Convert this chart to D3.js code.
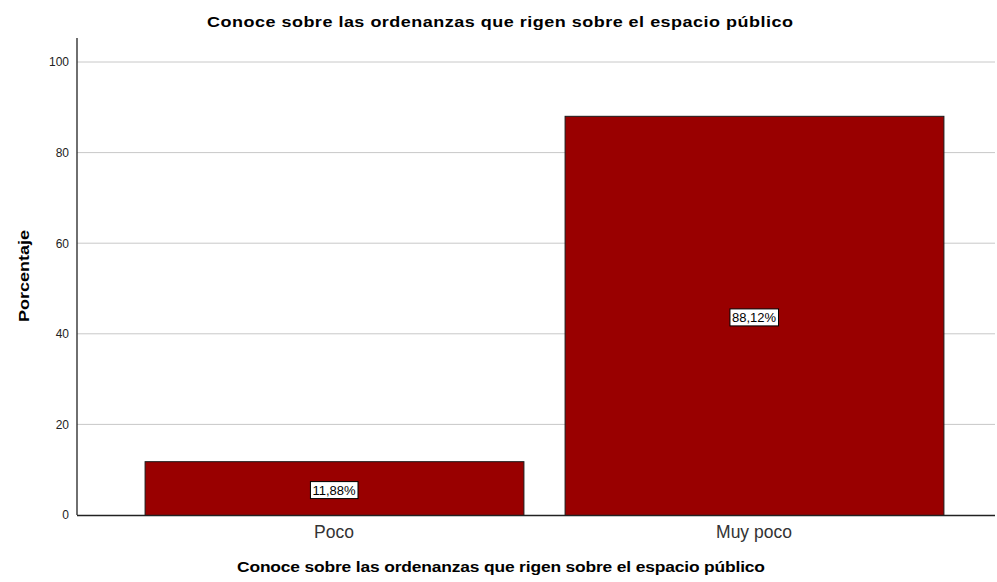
<!DOCTYPE html>
<html><head><meta charset="utf-8">
<script src="https://cdn.jsdelivr.net/npm/d3@7"></script>
<style>body{margin:0;background:#fff;} text{font-family:"Liberation Sans",Arial,sans-serif;}</style>
</head><body>
<svg id="c" width="997" height="582"></svg>
<script>
const categories = ["Poco", "Muy poco"];
const values = [11.88, 88.12];
const valueLabels = ["11,88%", "88,12%"];
const yTicks = [0, 20, 40, 60, 80, 100];
const title = "Conoce sobre las ordenanzas que rigen sobre el espacio público";
const xTitle = "Conoce sobre las ordenanzas que rigen sobre el espacio público";
const yTitle = "Porcentaje";

const svg = d3.select("#c");
const plotL = 77, plotR = 995, plotT = 38, plotB = 515;
const y = d3.scaleLinear().domain([0, 100]).range([plotB, 62]);
const x = d3.scaleBand().domain(categories).range([124, 964]).paddingInner(0.098).paddingOuter(0.049);

// gridlines
svg.append("g").selectAll("line").data(yTicks.filter(d => d > 0)).join("line")
  .attr("x1", plotL).attr("x2", plotR).attr("y1", d => y(d)).attr("y2", d => y(d))
  .attr("stroke", "#c8c8c8").attr("stroke-width", 1);

// bars
svg.append("g").selectAll("rect").data(values).join("rect")
  .attr("x", (d, i) => x(categories[i]) + 0.5)
  .attr("y", d => y(d) + 0.5)
  .attr("width", x.bandwidth())
  .attr("height", d => y(0) - y(d))
  .attr("fill", "#990000").attr("stroke", "#1a1a1a").attr("stroke-width", 1);

// y axis
const yAxis = d3.axisLeft(y).tickValues(yTicks).tickSize(0).tickPadding(8);
const ga = svg.append("g").attr("transform", `translate(${plotL},0)`).call(yAxis);
ga.select(".domain").remove();
ga.selectAll("text").attr("font-size", 12).attr("fill", "#222").style("font-family", "'Liberation Sans',Arial,sans-serif");
svg.append("line").attr("x1", plotL).attr("x2", plotL).attr("y1", plotT).attr("y2", plotB)
  .attr("stroke", "#222").attr("stroke-width", 1.3);

// x axis
const xAxis = d3.axisBottom(x).tickSize(0).tickPadding(11);
const gx = svg.append("g").attr("transform", `translate(0,${plotB})`).call(xAxis);
gx.select(".domain").remove();
gx.selectAll("text").attr("font-size", 17.5).attr("fill", "#333").style("font-family", "'Liberation Sans',Arial,sans-serif");
svg.append("line").attr("x1", plotL).attr("x2", plotR).attr("y1", plotB + 0.5).attr("y2", plotB + 0.5)
  .attr("stroke", "#222").attr("stroke-width", 1.3);

// value labels
const lg = svg.append("g").selectAll("g").data(values).join("g")
  .attr("transform", (d, i) => `translate(${x(categories[i]) + x.bandwidth() / 2},${(y(d) + y(0)) / 2 + 2})`);
lg.each(function(d, i) {
  const g = d3.select(this);
  const t = g.append("text").text(valueLabels[i]).attr("text-anchor", "middle")
    .attr("dominant-baseline", "central").attr("font-size", 13).attr("fill", "#000");
  const bb = t.node().getBBox();
  g.insert("rect", "text").attr("x", bb.x - 2).attr("y", bb.y - 1).attr("width", bb.width + 4).attr("height", bb.height + 2)
    .attr("fill", "#fff").attr("stroke", "#000").attr("stroke-width", 1);
});

// titles (glyphs horizontally widened as in the reference)
const sx = 1.2;
svg.append("text").attr("transform", `translate(500,27) scale(${sx},1)`).attr("text-anchor", "middle")
  .attr("font-size", 15).attr("font-weight", "bold").attr("fill", "#000")
  .attr("textLength", 586 / sx).attr("lengthAdjust", "spacing").text(title);
svg.append("text").attr("transform", `translate(501,572) scale(${sx},1)`).attr("text-anchor", "middle")
  .attr("font-size", 14.5).attr("font-weight", "bold").attr("fill", "#000")
  .attr("textLength", 528 / sx).attr("lengthAdjust", "spacing").text(xTitle);
svg.append("text").attr("transform", `translate(29,276) rotate(-90) scale(${sx},1)`).attr("text-anchor", "middle")
  .attr("font-size", 15).attr("font-weight", "bold").attr("fill", "#000")
  .attr("textLength", 92 / sx).attr("lengthAdjust", "spacing").text(yTitle);
</script>
</body></html>
